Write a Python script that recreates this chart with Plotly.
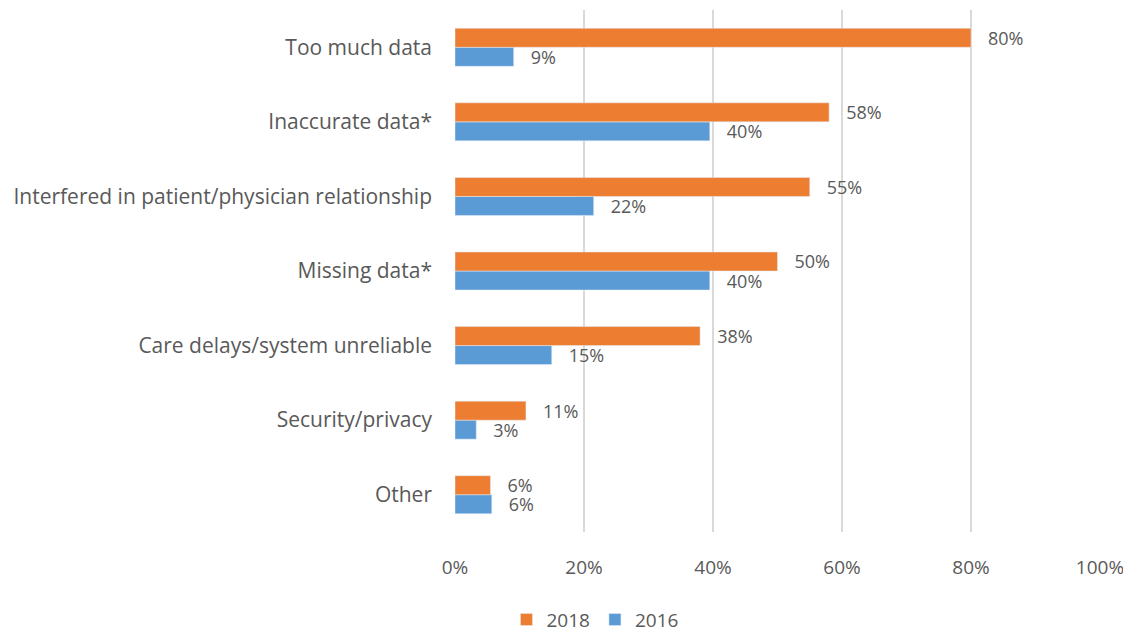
import plotly.graph_objects as go

categories = ["Too much data", "Inaccurate data*", "Interfered in patient/physician relationship",
              "Missing data*", "Care delays/system unreliable", "Security/privacy", "Other"]
values_2018 = [0.80, 0.58, 0.55, 0.50, 0.38, 0.11, 0.055]
values_2016 = [0.091, 0.395, 0.215, 0.395, 0.15, 0.033, 0.057]
labels_2018 = ["80%", "58%", "55%", "50%", "38%", "11%", "6%"]
labels_2016 = ["9%", "40%", "22%", "40%", "15%", "3%", "6%"]
tick_vals = [0, 0.2, 0.4, 0.6, 0.8, 1.0]
tick_text = ["0%", "20%", "40%", "60%", "80%", "100%"]

FONT = "Open Sans"
GRAY = "#595959"
PAD = "\u00a0\u00a0\u00a0"

fig = go.Figure()
fig.add_trace(go.Bar(
    name="2016", y=categories, x=values_2016, orientation="h",
    marker=dict(color="#5B9BD5"), text=labels_2016, texttemplate=PAD + "%{text}",
    textposition="outside", constraintext="none",
    textfont=dict(family=FONT, size=18, color=GRAY), cliponaxis=False,
))
fig.add_trace(go.Bar(
    name="2018", y=categories, x=values_2018, orientation="h",
    marker=dict(color="#ED7D31"), text=labels_2018, texttemplate=PAD + "%{text}",
    textposition="outside", constraintext="none",
    textfont=dict(family=FONT, size=18, color=GRAY), cliponaxis=False,
))

fig.update_layout(
    width=1123, height=627,
    barmode="group", bargap=0.49, bargroupgap=0,
    paper_bgcolor="white", plot_bgcolor="white",
    margin=dict(l=447, r=31, t=2, b=103, autoexpand=False),
    font=dict(family=FONT, size=20, color=GRAY),
    legend=dict(orientation="h", x=0.217, xanchor="center", y=-0.168, yanchor="middle",
                traceorder="reversed", font=dict(size=19, color=GRAY)),
    showlegend=True,
)
fig.update_xaxes(range=[0, 1.0], tickvals=tick_vals, ticktext=tick_text,
                 showgrid=True, gridcolor="#D9D9D9", gridwidth=2,
                 zeroline=False, showline=False, tickfont=dict(size=19, color=GRAY),
                 ticks="", ticklabelstandoff=22, automargin=False)
fig.update_yaxes(categoryorder="array", categoryarray=categories[::-1],
                 showgrid=False, zeroline=False, showline=False,
                 tickfont=dict(size=21, color=GRAY), ticks="", ticklabelstandoff=22,
                 automargin=False)

fig.write_html("out.html")
